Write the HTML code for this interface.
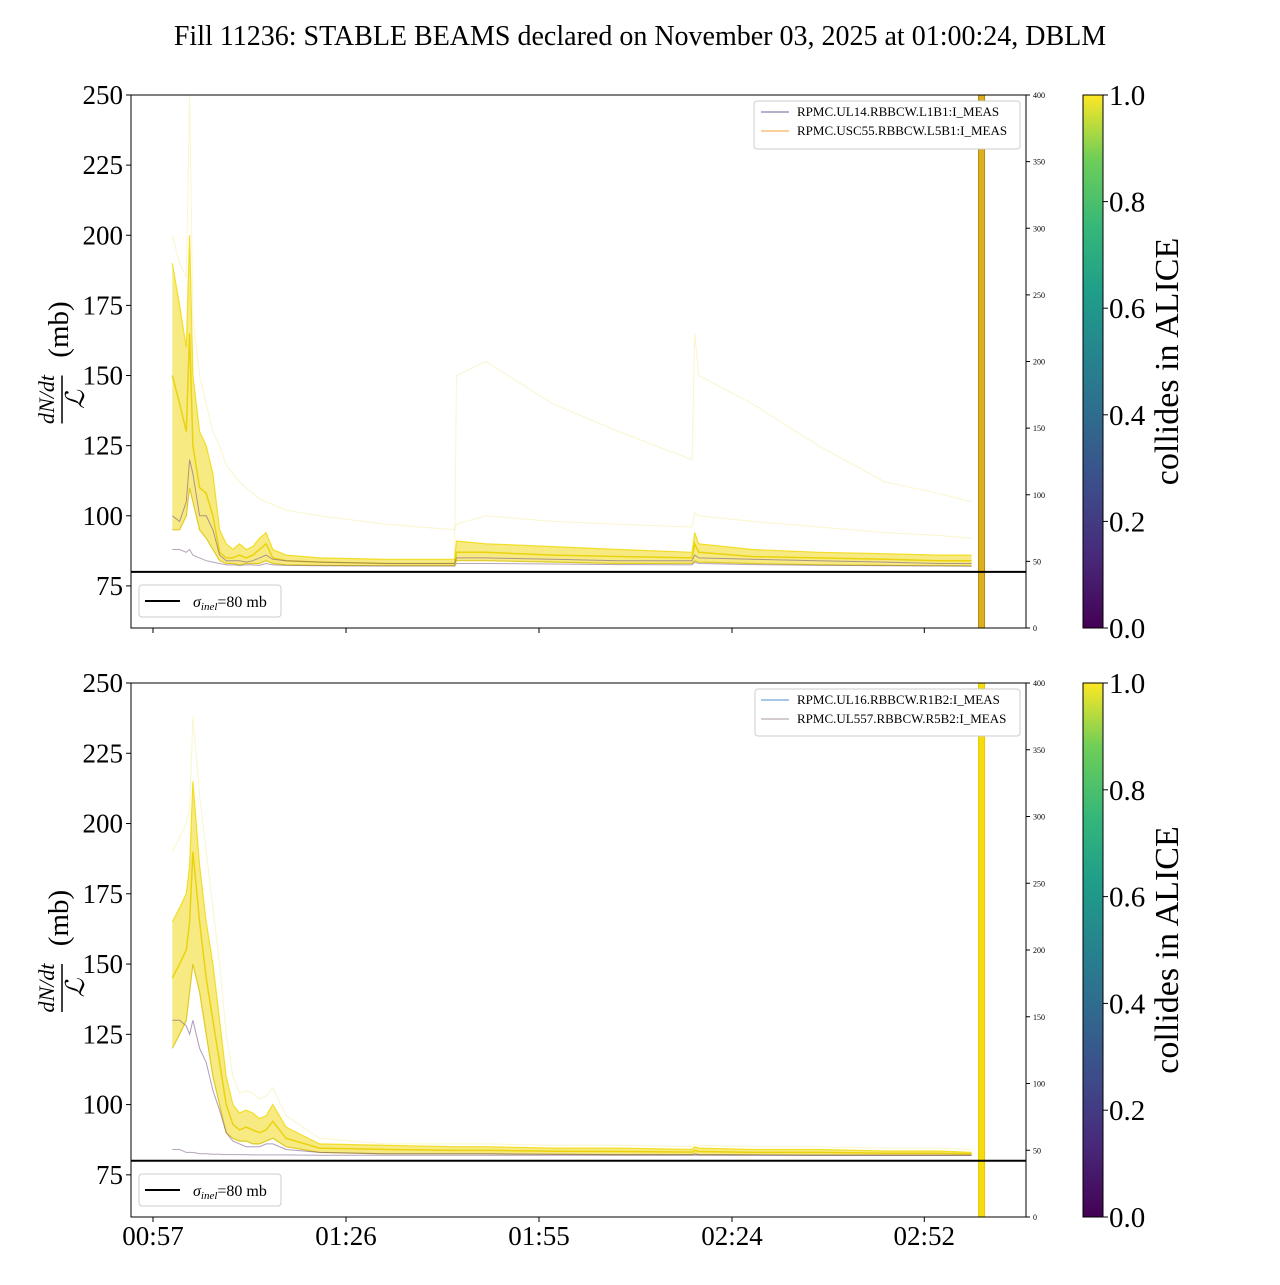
<!DOCTYPE html>
<html><head><meta charset="utf-8"><style>
body{margin:0;background:#fff}
svg text{font-family:"Liberation Serif","DejaVu Serif",serif}
</style></head><body>
<svg id="fig" width="1280" height="1280" viewBox="0 0 1280 1280" xmlns="http://www.w3.org/2000/svg">
<defs>
<linearGradient id="viridis" x1="0" y1="1" x2="0" y2="0">
<stop offset="0" stop-color="#440154"/><stop offset="0.13" stop-color="#482878"/><stop offset="0.25" stop-color="#3e4989"/><stop offset="0.38" stop-color="#31688e"/><stop offset="0.5" stop-color="#26828e"/><stop offset="0.63" stop-color="#1f9e89"/><stop offset="0.75" stop-color="#35b779"/><stop offset="0.88" stop-color="#6ece58"/><stop offset="1" stop-color="#fde725"/>
</linearGradient>
</defs>
<text x="640" y="45" font-size="28" text-anchor="middle">Fill 11236: STABLE BEAMS declared on November 03, 2025 at 01:00:24, DBLM</text>
<g id="p0"></g>
<g id="p1"></g>
</svg>
<script>
// time in minutes after 00:57
const times=[2.9,4,5,5.5,6,7,8,9,10,11,12,13,14,15,16,17,18,20,25,35,45.3,45.6,50,60,70,81,81.4,82,90,100,110,118,123];
const xTickLabels=["00:57","01:26","01:55","02:24","02:52"];
const xTickTimes=[0,29,58,87,115.9];
const yTicks=[75,100,125,150,175,200,225,250];
const rightTicks=[0,50,100,150,200,250,300,350,400];
const cbTicks=[0.0,0.2,0.4,0.6,0.8,1.0];
const sigmaInel=80;
const markerTime=124.5;
// top panel series
const topYellowHigh=[190,175,160,200,150,130,125,115,95,90,88,90,88,89,92,94,88,86,85,84.5,84.5,91,90,89,88,87,94,90,88,87,86.5,86,86];
const topYellowLow=[95,95,100,110,105,95,92,88,84,83,83,82.5,83,83,83,84,83,82.5,82.3,82.2,82.2,84,84,83.5,83,83,84,83.5,83,82.5,82.3,82.2,82.2];
const topYellowMid=[150,140,130,165,125,110,108,100,87,85,85,86,85,86,88,90,85,84,83.5,83,83,87,87,86,85.5,85,90,87,85.5,85,84.5,84,84];
const topPurple=[100,98,105,120,115,100,100,95,86,84,84,84,83.5,84,85,86,84.5,84,83.5,83,83,85,85,84.5,84,84,86,85,84.5,84,83.5,83,83];
const topPurpleLow=[88,88,87,88,86,85,84,83.5,83,82.5,82.5,82.3,82.5,82.5,82.3,83,82.5,82.3,82.2,82.1,82.1,83,83,82.8,82.6,82.5,83.5,83,82.6,82.4,82.2,82.1,82];
const topFaintA=[200,190,185,250,170,150,140,130,125,118,115,112,110,108,106,105,104,102,100,97,95,97,100,98,97,96,101,100,98,96,94,93,92];
const topFaintB=[null,null,null,null,null,null,null,null,null,null,null,null,null,null,null,null,null,null,null,null,85,150,155,140,130,120,165,150,140,125,112,108,105];
// bottom panel series
const botYellowHigh=[165,170,175,185,215,185,165,150,130,110,100,97,98,97,95,96,100,92,86,85.5,85,85,85,84.5,84.5,84,85,84.5,84,84,83.5,83.5,83];
const botYellowLow=[120,125,130,140,150,140,125,110,100,90,88,87,87,86,86,87,88,85,83,82.5,82.5,82.5,82.5,82.3,82.2,82.2,82.5,82.2,82.1,82,82,82,82];
const botYellowMid=[145,150,155,165,190,165,145,130,115,100,93,91,92,91,90,91,94,88,84.5,84,83.7,83.7,83.7,83.4,83.3,83.1,83.7,83.3,83,83,82.7,82.7,82.5];
const botPurple=[130,130,128,125,130,120,115,105,98,90,87,86,85,85,85,86,86,84,83,82.5,82.5,82.5,82.5,82.3,82.2,82.2,82.4,82.2,82.1,82,82,82,82];
const botPurpleLow=[84,84,83,83,83,82.5,82.5,82.3,82.3,82.2,82.2,82.2,82.2,82.1,82.1,82.1,82.1,82.1,82,82,82,82,82,82,82,82,82,82,82,82,82,82,82];
const botFaintA=[190,195,200,205,238,210,190,170,150,125,110,104,105,104,102,103,106,96,88,86,86,86,86,85.5,85.5,85,86,85.5,85,85,84.5,84.5,84];

const NS="http://www.w3.org/2000/svg";
const X0=153, PXM=6.655, XL=131, XR=1026;
const panels=[{top:95,bot:628,g:'p0',legend:["RPMC.UL14.RBBCW.L1B1:I_MEAS","RPMC.USC55.RBBCW.L5B1:I_MEAS"],lc:["#6b5b95","#f0a030"],markC:"#b8860b"},
{top:683,bot:1217,g:'p1',legend:["RPMC.UL16.RBBCW.R1B2:I_MEAS","RPMC.UL557.RBBCW.R5B2:I_MEAS"],lc:["#4f8fd0","#a89aa0"],markC:"#e6c800"}];
function mk(tag,attrs,parent){const e=document.createElementNS(NS,tag);for(const k in attrs)e.setAttribute(k,attrs[k]);parent.appendChild(e);return e;}
function xs(t){return X0+t*PXM;}
panels.forEach((p,pi)=>{
 const g=document.getElementById(p.g);
 const ys=v=>p.top+(250-v)*(p.bot-p.top)/190;
 const yr=v=>p.bot-v*(p.bot-p.top)/400;
 const clip=mk('clipPath',{id:'c'+pi},g);mk('rect',{x:XL,y:p.top,width:XR-XL,height:p.bot-p.top},clip);
 const data=mk('g',{'clip-path':'url(#c'+pi+')'},g);
 
 
 const S=pi===0?{hi:topYellowHigh,lo:topYellowLow,mid:topYellowMid,pu:topPurple,pl:topPurpleLow,fa:topFaintA,fb:topFaintB}:{hi:botYellowHigh,lo:botYellowLow,mid:botYellowMid,pu:botPurple,pl:botPurpleLow,fa:botFaintA,fb:null};
 function path(arr){let d='',pen=false;arr.forEach((v,i)=>{if(v==null){pen=false;return;}d+=(pen?'L':'M')+xs(times[i]).toFixed(1)+','+ys(v).toFixed(1);pen=true;});return d;}
 let bd=path(S.hi);for(let i=times.length-1;i>=0;i--)bd+='L'+xs(times[i]).toFixed(1)+','+ys(S.lo[i]).toFixed(1);bd+='Z';
 const band=mk('path',{d:bd,fill:'#f2dc30','fill-opacity':'0.6',stroke:'none'},data);
 
 
 const defs=[[S.fa,'#f6ee9a',1,0.5,'faint-line-a'],[S.fb,'#f6ee9a',1,0.5,'faint-line-b'],[S.hi,'#f0d800',1.2,0.8,'yellow-upper-line'],[S.mid,'#e8d000',1.5,0.9,'yellow-mid-line'],[S.lo,'#d8c000',1.2,0.8,'yellow-lower-line'],[S.pu,'#7a5a8a',1,0.6,'purple-line'],[S.pl,'#6a4a7a',1,0.5,'purple-lower-line']];
 defs.forEach(d=>{if(!d[0])return;const e=mk('path',{d:path(d[0]),fill:'none',stroke:d[1],'stroke-width':d[2],'stroke-opacity':d[3]},data);
  
  });
 const mx=xs(markerTime);
 const mr=mk('rect',{x:mx-3,y:p.top,width:6,height:p.bot-p.top,fill:pi===0?'#d8b020':'#f5dc10',stroke:p.markC,'stroke-width':1},data);
 
 
 const sl=mk('line',{x1:XL,x2:XR,y1:ys(sigmaInel),y2:ys(sigmaInel),stroke:'#000','stroke-width':2},g);
 
 
 const fr=mk('rect',{x:XL,y:p.top,width:XR-XL,height:p.bot-p.top,fill:'none',stroke:'#000','stroke-width':1},g);
 
 
 yTicks.forEach(v=>{const y=ys(v);mk('line',{x1:XL-5,x2:XL,y1:y,y2:y,stroke:'#000'},g);
  const t=mk('text',{x:XL-8,y:y+9,'font-size':27,'text-anchor':'end'},g);t.textContent=v;
  
  });
 rightTicks.forEach(v=>{const y=yr(v);mk('line',{x1:XR,x2:XR+4,y1:y,y2:y,stroke:'#000'},g);
  const t=mk('text',{x:XR+7,y:y+3,'font-size':8},g);t.textContent=v;
  
  });
 xTickTimes.forEach((tm,i)=>{const x=xs(tm);mk('line',{x1:x,x2:x,y1:p.bot,y2:p.bot+5,stroke:'#000'},g);
  if(pi===1){const t=mk('text',{x:x,y:p.bot+28,'font-size':27,'text-anchor':'middle'},g);t.textContent=xTickLabels[i];
  
  }});
 const cy=(p.top+p.bot)/2;
 const yl=mk('g',{transform:`translate(62,${cy}) rotate(-90)`},g);
 
 
 let t=mk('text',{x:-38,y:-8,'font-size':22,'text-anchor':'middle','font-style':'italic'},yl);t.textContent='dN/dt';
 mk('line',{x1:-62,x2:-14,y1:0,y2:0,stroke:'#000','stroke-width':1.5},yl);
 t=mk('text',{x:-38,y:22,'font-size':26,'text-anchor':'middle','font-style':'italic'},yl);t.textContent='ℒ';
 t=mk('text',{x:32,y:6,'font-size':29,'text-anchor':'middle'},yl);t.textContent='(mb)';
 const sg=mk('g',{},g);
 
 
 mk('rect',{x:139,y:p.bot-43,width:142,height:32,rx:3,fill:'#fff',stroke:'#ccc'},sg);
 mk('line',{x1:145,x2:180,y1:p.bot-27,y2:p.bot-27,stroke:'#000','stroke-width':2},sg);
 t=mk('text',{x:193,y:p.bot-21,'font-size':16},sg);t.innerHTML='<tspan font-style="italic">σ</tspan><tspan font-style="italic" font-size="11" dy="3">inel</tspan><tspan dy="-3">=80 mb</tspan>';
 const lg=mk('g',{},g);
 
 
 mk('rect',{x:pi===0?754:755,y:p.top+6,width:pi===0?266:265,height:pi===0?48:47,rx:3,fill:'#fff',stroke:'#ccc'},lg);
 p.legend.forEach((s,i)=>{const y=p.top+17+i*19;
  mk('line',{x1:761,x2:789,y1:y,y2:y,stroke:p.lc[i],'stroke-width':1},lg);
  const tt=mk('text',{x:797,y:y+4,'font-size':13},lg);tt.textContent=s;
  
  });
 const cb=mk('g',{},g);
 
 
 mk('rect',{x:1083,y:p.top,width:20,height:p.bot-p.top,fill:'url(#viridis)',stroke:'#000','stroke-width':1},cb);
 cbTicks.forEach(v=>{const y=p.bot-v*(p.bot-p.top);mk('line',{x1:1103,x2:1108,y1:y,y2:y,stroke:'#000'},cb);
  const tt=mk('text',{x:1109,y:y+10,'font-size':29},cb);tt.textContent=v.toFixed(1);});
 const ct=mk('text',{x:0,y:0,'font-size':34,'text-anchor':'middle',transform:`translate(1178,${cy}) rotate(-90)`},cb);ct.textContent='collides in ALICE';
 
 
});
</script>
</body></html>
